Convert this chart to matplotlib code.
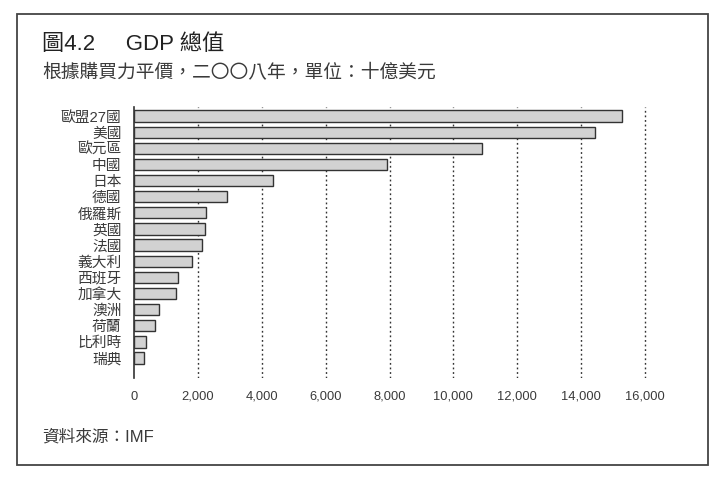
import matplotlib
matplotlib.use('Agg')
import matplotlib.pyplot as plt
from matplotlib.patches import Rectangle

plt.rcParams['font.family'] = ['Liberation Sans', 'Noto Sans CJK TC', 'DejaVu Sans']

# GDP (PPP, 2008, billion USD)
countries = ['歐盟27國', '美國', '歐元區', '中國', '日本', '德國', '俄羅斯', '英國',
             '法國', '義大利', '西班牙', '加拿大', '澳洲', '荷蘭', '比利時', '瑞典']
gdp = [15270, 14440, 10890, 7920, 4350, 2910, 2260, 2210,
       2120, 1810, 1380, 1300, 780, 650, 380, 320]
xticks = [0, 2000, 4000, 6000, 8000, 10000, 12000, 14000, 16000]
xtick_labels = ['0', '2,000', '4,000', '6,000', '8,000', '10,000', '12,000', '14,000', '16,000']

W, H = 727, 484
fig = plt.figure(figsize=(W / 100, H / 100), dpi=100)
text_col = '#3a3a3a'

# outer frame
fig.patches.append(Rectangle((17 / W, 1 - 465 / H), (708 - 17) / W, (465 - 14) / H,
                             transform=fig.transFigure, fill=False,
                             edgecolor='#444444', linewidth=1.3))

ax_left, ax_right = 134 / W, 661 / W
ax = fig.add_axes([ax_left, 1 - 378 / H, ax_right - ax_left, (378 - 107) / H])

ypos = list(range(len(countries)))
ax.barh(ypos, gdp, height=0.7, color='#d2d2d2', edgecolor='#333333',
        linewidth=1.0, zorder=3)

ax.set_xlim(0, 16500)
ax.set_ylim(16.24, -0.56)
ax.set_xticks(xticks)
ax.set_xticklabels(xtick_labels, fontsize=9.3, color=text_col)
ax.set_yticks(ypos)
ax.set_yticklabels(countries, fontsize=10.6, color=text_col)
ax.tick_params(axis='both', length=0)
ax.tick_params(axis='x', pad=9)
ax.tick_params(axis='y', pad=9)

for x in xticks[1:]:
    ax.axvline(x, color='#333333', linestyle=(0, (1.3, 2.0)), linewidth=1.0, zorder=1)

for side in ['top', 'right', 'bottom']:
    ax.spines[side].set_visible(False)
ax.spines['left'].set_color('#333333')
ax.spines['left'].set_linewidth(1.2)
ax.patch.set_visible(False)

fig.text(42 / W, 1 - 45 / H, '圖4.2     GDP 總值', fontsize=16, color='#222222',
         ha='left', va='center')
fig.text(42 / W, 1 - 73 / H, '根據購買力平價，二〇〇八年，單位：十億美元', fontsize=13.5,
         color=text_col, ha='left', va='center')
fig.text(42 / W, 1 - 437 / H, '資料來源：IMF', fontsize=12, color=text_col,
         ha='left', va='center')

fig.savefig('out.png', dpi=100)
